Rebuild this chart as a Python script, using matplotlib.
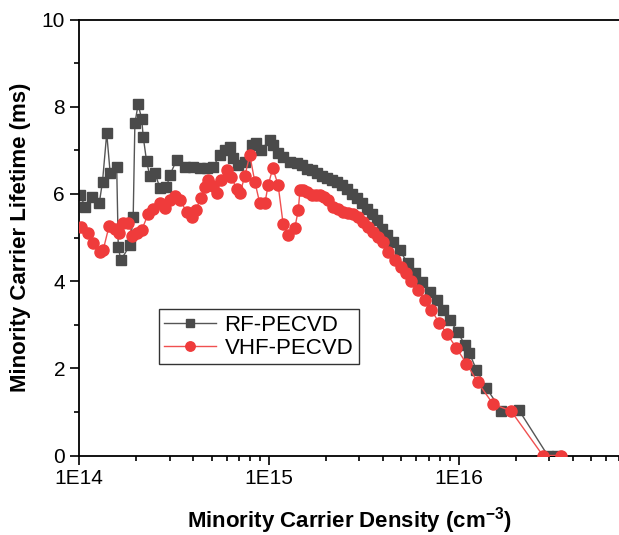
import math
import matplotlib
matplotlib.use('Agg')
import matplotlib.pyplot as plt
from matplotlib.ticker import LogLocator, FixedLocator, FuncFormatter, MultipleLocator, NullFormatter

plt.rcParams['font.family'] = ['Liberation Sans', 'DejaVu Sans']
plt.rcParams['mathtext.fontset'] = 'custom'
plt.rcParams['mathtext.bf'] = 'Liberation Sans:bold'
plt.rcParams['mathtext.rm'] = 'Liberation Sans'

# RF-PECVD: densidade (cm^-3) e tempo de vida (ms)
rf_densidade = [1.01e14, 1.08e14, 1.17e14, 1.28e14, 1.33e14, 1.40e14, 1.46e14, 1.58e14,
                1.61e14, 1.66e14, 1.86e14, 1.93e14, 1.97e14, 2.05e14, 2.14e14, 2.18e14,
                2.27e14, 2.36e14, 2.51e14, 2.67e14, 2.89e14, 3.01e14, 3.27e14, 3.61e14,
                4.00e14, 4.34e14, 4.70e14, 5.09e14, 5.52e14, 5.87e14, 6.23e14, 6.49e14,
                6.89e14, 7.48e14, 8.11e14, 8.61e14, 9.15e14, 1.01e15, 1.05e15, 1.12e15,
                1.19e15, 1.29e15, 1.40e15, 1.49e15, 1.58e15, 1.68e15, 1.79e15, 1.90e15,
                2.02e15, 2.15e15, 2.28e15, 2.42e15, 2.57e15, 2.73e15, 2.91e15, 3.09e15,
                3.28e15, 3.48e15, 3.70e15, 3.93e15, 4.18e15, 4.49e15, 4.89e15, 5.39e15,
                5.87e15, 6.39e15, 7.04e15, 7.66e15, 8.24e15, 8.97e15, 9.88e15, 1.08e16,
                1.14e16, 1.24e16, 1.40e16, 1.68e16, 2.08e16, 2.95e16, 3.30e16]
rf_vida = [5.97, 5.71, 5.94, 5.80, 6.28, 7.39, 6.47, 6.61,
           4.79, 4.48, 4.83, 5.48, 7.62, 8.06, 7.71, 7.31,
           6.75, 6.41, 6.49, 6.13, 6.15, 6.43, 6.78, 6.61,
           6.62, 6.59, 6.59, 6.62, 6.89, 7.01, 7.08, 6.82,
           6.66, 6.74, 7.12, 7.16, 7.01, 7.24, 7.12, 6.93,
           6.85, 6.74, 6.70, 6.66, 6.58, 6.55, 6.48, 6.42,
           6.36, 6.31, 6.27, 6.21, 6.12, 6.00, 5.90, 5.78,
           5.66, 5.53, 5.41, 5.20, 5.06, 4.90, 4.71, 4.41,
           4.18, 3.99, 3.76, 3.57, 3.34, 3.11, 2.84, 2.53,
           2.35, 1.97, 1.55, 1.03, 1.04, 0.0, 0.0]

# VHF-PECVD
vhf_densidade = [1.03e14, 1.12e14, 1.18e14, 1.29e14, 1.34e14, 1.44e14, 1.55e14, 1.63e14,
                 1.71e14, 1.82e14, 1.91e14, 2.01e14, 2.14e14, 2.32e14, 2.44e14, 2.67e14,
                 2.84e14, 3.01e14, 3.20e14, 3.40e14, 3.69e14, 3.92e14, 4.13e14, 4.37e14,
                 4.61e14, 4.79e14, 5.09e14, 5.31e14, 5.57e14, 5.99e14, 6.36e14, 6.76e14,
                 7.04e14, 7.48e14, 7.94e14, 8.44e14, 8.97e14, 9.53e14, 9.92e14, 1.05e15,
                 1.12e15, 1.19e15, 1.26e15, 1.37e15, 1.43e15, 1.46e15, 1.52e15, 1.58e15,
                 1.68e15, 1.77e15, 1.86e15, 1.95e15, 2.05e15, 2.18e15, 2.31e15, 2.46e15,
                 2.60e15, 2.78e15, 2.94e15, 3.14e15, 3.32e15, 3.54e15, 3.75e15, 4.00e15,
                 4.25e15, 4.61e15, 4.99e15, 5.31e15, 5.64e15, 6.11e15, 6.62e15, 7.18e15,
                 7.88e15, 8.72e15, 9.72e15, 1.10e16, 1.26e16, 1.52e16, 1.89e16, 2.78e16,
                 3.47e16]
vhf_vida = [5.25, 5.11, 4.87, 4.67, 4.71, 5.26, 5.19, 5.10,
            5.34, 5.34, 5.03, 5.10, 5.17, 5.55, 5.65, 5.80,
            5.67, 5.86, 5.95, 5.86, 5.59, 5.48, 5.63, 5.90,
            6.15, 6.33, 6.18, 6.03, 6.32, 6.55, 6.39, 6.11,
            6.01, 6.41, 6.89, 6.28, 5.78, 5.78, 6.20, 6.59,
            6.20, 5.31, 5.06, 5.21, 5.63, 6.09, 6.09, 6.05,
            5.97, 5.98, 5.97, 5.93, 5.86, 5.71, 5.65, 5.59,
            5.57, 5.55, 5.47, 5.36, 5.25, 5.13, 5.02, 4.90,
            4.67, 4.48, 4.33, 4.18, 4.01, 3.80, 3.57, 3.34,
            3.05, 2.78, 2.47, 2.11, 1.68, 1.18, 1.02, 0.0,
            0.0]

fig = plt.figure(figsize=(6.19, 5.35), dpi=100)
ax = fig.add_axes([79 / 619, 1 - 455.5 / 535, 1 - 79 / 619, 436 / 535])

ax.plot(rf_densidade, rf_vida, color='#555555', lw=1.0, marker='s', ms=6.5,
        mfc='#4a4a4a', mec='#4a4a4a', label='RF-PECVD', zorder=2)
ax.plot(vhf_densidade, vhf_vida, color='#f05050', lw=1.0, marker='o', ms=8,
        mfc='#ef3b3b', mec='#ef3b3b', label='VHF-PECVD', zorder=3)

ax.set_xscale('log')
ax.set_xlim(1e14, 7e16)
ax.set_ylim(0, 10)

ax.xaxis.set_major_locator(FixedLocator([1e14, 1e15, 1e16]))
ax.xaxis.set_major_formatter(FuncFormatter(lambda v, p: '1E%d' % round(math.log10(v))))
ax.xaxis.set_minor_locator(LogLocator(base=10, subs=range(2, 10), numticks=20))
ax.xaxis.set_minor_formatter(NullFormatter())
ax.yaxis.set_major_locator(MultipleLocator(2))
ax.yaxis.set_minor_locator(MultipleLocator(1))

ax.tick_params(which='major', direction='out', length=6.5, width=1.2, labelsize=15)
ax.tick_params(which='minor', direction='out', length=3.5, width=1.2)
ax.tick_params(top=False, right=False, which='both')
for s in ['left', 'bottom', 'top']:
    ax.spines[s].set_linewidth(1.3)
ax.spines['right'].set_visible(False)

ax.set_xlabel(r'Minority Carrier Density (cm$^{\mathbf{-3}}$)', fontsize=16, fontweight='bold', labelpad=12)
ax.set_ylabel('Minority Carrier Lifetime (ms)', fontsize=16, fontweight='bold', labelpad=8)

leg = ax.legend(loc='upper left', bbox_to_anchor=(0.148, 0.336), borderaxespad=0,
                fontsize=16, fancybox=False, frameon=True, handlelength=2.3,
                borderpad=0.25, labelspacing=0.1, handletextpad=0.4, markerscale=0.85)
leg.get_frame().set_edgecolor('black')
leg.get_frame().set_linewidth(1.0)

fig.savefig('out.png', dpi=100)
